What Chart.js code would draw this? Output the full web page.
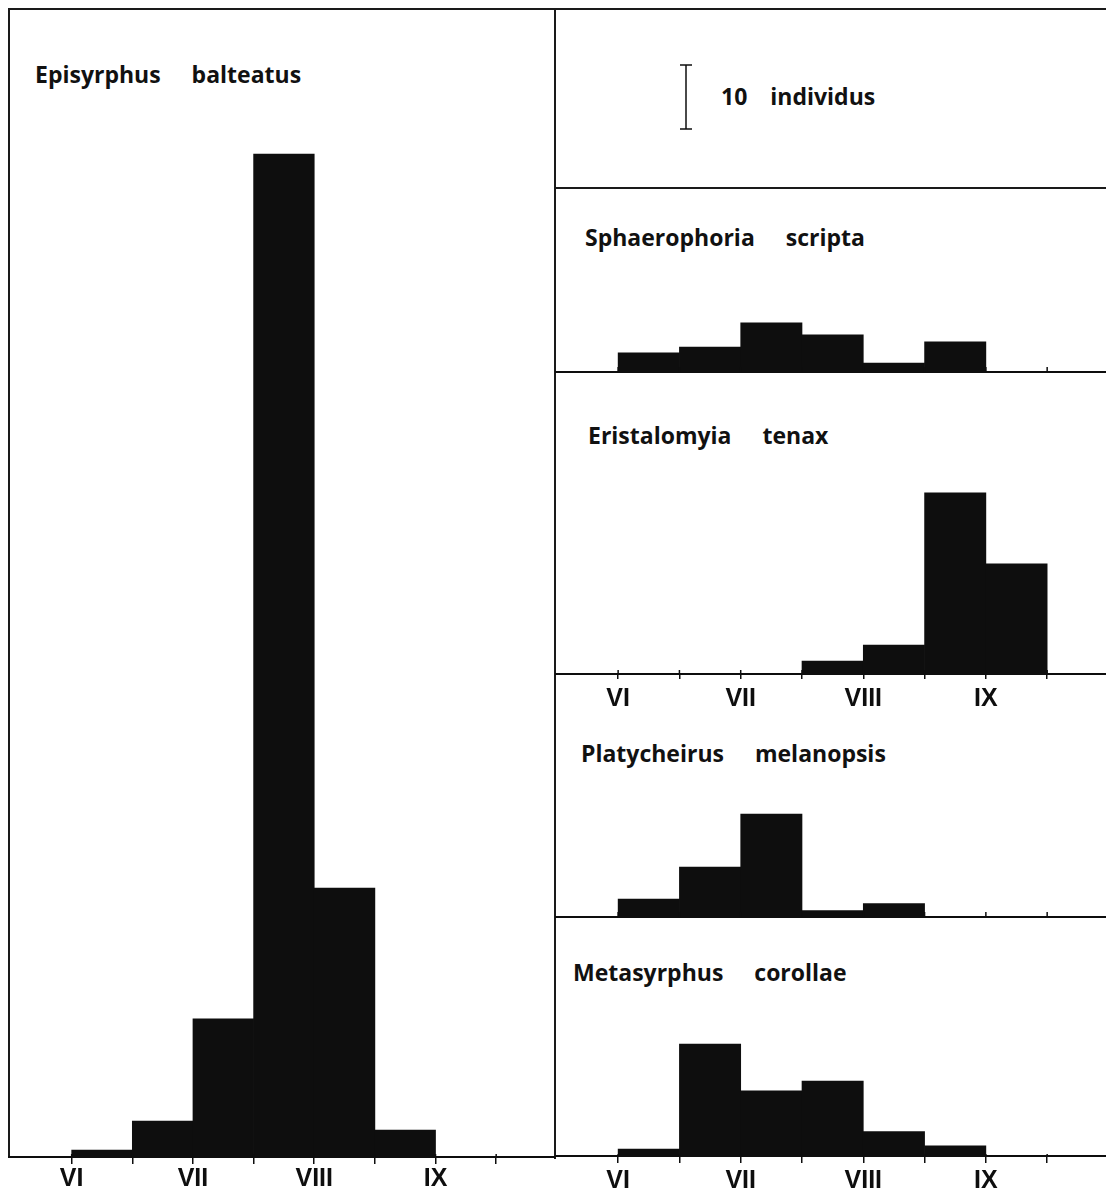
<!DOCTYPE html>
<html>
<head>
<meta charset="utf-8">
<script src="https://cdn.jsdelivr.net/npm/chart.js@4.4.1/dist/chart.umd.min.js"></script>
<style>
  body { margin: 0; background: #fff; }
  #page { position: relative; width: 1106px; height: 1191px; overflow: hidden; background: #fff; }
  #page canvas { position: absolute; }
  .rule { position: absolute; background: #1a1a1a; }
  .title {
    position: absolute; white-space: pre; line-height: 1;
    font-family: "Open Sans", sans-serif; font-weight: 700; font-size: 23px;
    color: #111; word-spacing: 25px;
  }
</style>
</head>
<body>
<div id="page">
  <!-- frame -->
  <div class="rule" style="left:8px;top:8px;width:1098px;height:2px"></div>
  <div class="rule" style="left:8px;top:8px;width:2px;height:1150px"></div>
  <div class="rule" style="left:554px;top:8px;width:2px;height:1151px"></div>
  <div class="rule" style="left:555px;top:187px;width:551px;height:2px"></div>

  <!-- species names -->
  <div class="title" style="left:35px;top:63px">Episyrphus balteatus</div>
  <div class="title" style="left:585px;top:226px">Sphaerophoria scripta</div>
  <div class="title" style="left:588px;top:424px">Eristalomyia tenax</div>
  <div class="title" style="left:581px;top:742px">Platycheirus melanopsis</div>
  <div class="title" style="left:573px;top:961px">Metasyrphus corollae</div>
  <div class="title" style="left:721px;top:85px;word-spacing:17px">10 individus</div>
</div>

<script>
/* ================= DATA (individuals per half-month, from VI) ================= */
const tickLabels = ['VI', '', 'VII', '', 'VIII', '', 'IX', ''];

const episyrphus    = [1.1, 5.6, 21.6, 156.7, 42.0, 4.2, 0, 0];
const sphaerophoria = [3.0, 3.9, 7.7, 5.8, 1.4, 4.7, 0, 0];
const eristalomyia  = [0, 0, 0, 2.0, 4.5, 28.3, 17.2, 0];
const platycheirus  = [2.8, 7.8, 16.1, 1.0, 2.1, 0, 0, 0];
const metasyrphus   = [1.1, 17.5, 10.2, 11.7, 3.8, 1.6, 0, 0];

const scaleBar = [0, 10];   // "10 individus"

/* ================= SHARED SETTINGS ================= */
const PX = 6.4;             // pixels per individual, same for every panel
const INK = '#0e0e0e';

Chart.defaults.font.family = '"Liberation Sans", Arial, sans-serif';
Chart.defaults.color = INK;

// short tick marks poking above the baseline
const tickMarks = {
    id: 'tickMarks',
    afterDatasetsDraw(chart, args, opts) {
        if (!opts.up) return;
        const x = chart.scales.x;
        const ctx = chart.ctx;
        ctx.save();
        ctx.strokeStyle = INK;
        ctx.lineWidth = 1.5;
        x.ticks.forEach(t => {
            const px = x.getPixelForValue(t.value);
            ctx.beginPath();
            ctx.moveTo(px, x.top - opts.up);
            ctx.lineTo(px, x.top);
            ctx.stroke();
        });
        ctx.restore();
    }
};

function addCanvas(left, top, width, height) {
    const c = document.createElement('canvas');
    c.width = width;
    c.height = height;
    c.style.left = left + 'px';
    c.style.top = top + 'px';
    c.style.width = width + 'px';
    c.style.height = height + 'px';
    document.getElementById('page').appendChild(c);
    return c;
}

/* ================= HISTOGRAM PANEL ================= */
function histogram(values, box) {
    const canvas = addCanvas(box.left, box.top, box.width, box.bottom - box.top);

    return new Chart(canvas, {
        type: 'bar',
        data: {
            datasets: [{
                data: values.map((v, i) => ({ x: i + 0.5, y: v })),
                backgroundColor: INK,
                borderWidth: 0,
                barPercentage: 1,
                categoryPercentage: 1
            }]
        },
        options: {
            responsive: false,
            animation: false,
            layout: { padding: 0, autoPadding: false },
            plugins: {
                legend: { display: false },
                tooltip: { enabled: false },
                tickMarks: { up: box.up }
            },
            scales: {
                x: {
                    type: 'linear',
                    offset: false,
                    min: box.xmin,
                    max: box.xmax,
                    afterBuildTicks: s => { s.ticks = tickLabels.map((_, i) => ({ value: i })); },
                    afterFit: s => { s.height = box.bottom - box.base; },
                    border: { display: true, color: INK, width: 2 },
                    grid: {
                        display: true,
                        offset: false,
                        drawOnChartArea: false,
                        drawTicks: box.down > 0,
                        tickLength: box.down,
                        color: INK,
                        lineWidth: 1.5
                    },
                    ticks: {
                        display: box.labels,
                        autoSkip: false,
                        maxRotation: 0,
                        padding: box.pad,
                        font: { size: 25, weight: 'bold' },
                        color: INK,
                        callback: v => tickLabels[v] || ''
                    }
                },
                y: {
                    display: false,
                    min: 0,
                    max: (box.base - box.top) / PX
                }
            }
        },
        plugins: [tickMarks]
    });
}

const LEFT  = { left: 8,   width: 547, xmin: -1.05, xmax: 7.97 };
const RIGHT = { left: 555, width: 551, xmin: -1.03, xmax: 7.96 };

histogram(episyrphus,    { ...LEFT,  top: 12,  base: 1157, bottom: 1191, up: 3, down: 7, labels: true,  pad: 0 });
histogram(sphaerophoria, { ...RIGHT, top: 190, base: 372,  bottom: 382,  up: 5, down: 0, labels: false, pad: 0 });
histogram(eristalomyia,  { ...RIGHT, top: 376, base: 674,  bottom: 716,  up: 4, down: 5, labels: true,  pad: 5 });
histogram(platycheirus,  { ...RIGHT, top: 720, base: 917,  bottom: 927,  up: 5, down: 0, labels: false, pad: 0 });
histogram(metasyrphus,   { ...RIGHT, top: 930, base: 1156, bottom: 1191, up: 2, down: 7, labels: true,  pad: 3 });

/* ================= SCALE BAR ================= */
const barBox = { left: 676, top: 58, width: 20, base: 129, bottom: 136 };
new Chart(addCanvas(barBox.left, barBox.top, barBox.width, barBox.bottom - barBox.top), {
    type: 'scatter',
    data: {
        datasets: [{
            data: scaleBar.map(v => ({ x: 0, y: v })),
            showLine: true,
            borderColor: INK,
            borderWidth: 1.5,
            pointStyle: 'line',
            pointRadius: 6,
            pointBorderWidth: 1.5,
            pointBorderColor: INK
        }]
    },
    options: {
        responsive: false,
        animation: false,
        layout: { padding: 0, autoPadding: false },
        plugins: { legend: { display: false }, tooltip: { enabled: false } },
        scales: {
            x: { display: false, min: -1, max: 1 },
            y: {
                display: false,
                min: -(barBox.bottom - barBox.base) / PX,
                max: (barBox.base - barBox.top) / PX
            }
        }
    }
});
</script>
</body>
</html>
